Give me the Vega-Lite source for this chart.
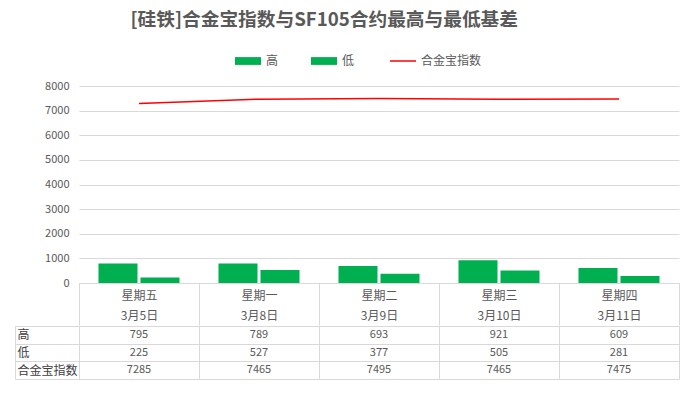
{
  "$schema": "https://vega.github.io/schema/vega-lite/v6.json",
  "padding": {"left": 14, "top": 11, "right": 10, "bottom": 5},
  "background": "white",
  "title": {"text": "[硅铁]合金宝指数与SF105合约最高与最低基差", "fontSize": 18.7, "font": "Noto Sans CJK SC", "fontWeight": "bold", "color": "#595959", "anchor": "start", "dx": 116, "offset": 25},
  "datasets": {
    "d": [
      {"day": "星期五|3月5日", "series": "高", "value": 795},
      {"day": "星期一|3月8日", "series": "高", "value": 789},
      {"day": "星期二|3月9日", "series": "高", "value": 693},
      {"day": "星期三|3月10日", "series": "高", "value": 921},
      {"day": "星期四|3月11日", "series": "高", "value": 609},
      {"day": "星期五|3月5日", "series": "低", "value": 225},
      {"day": "星期一|3月8日", "series": "低", "value": 527},
      {"day": "星期二|3月9日", "series": "低", "value": 377},
      {"day": "星期三|3月10日", "series": "低", "value": 505},
      {"day": "星期四|3月11日", "series": "低", "value": 281},
      {"day": "星期五|3月5日", "series": "合金宝指数", "value": 7285},
      {"day": "星期一|3月8日", "series": "合金宝指数", "value": 7465},
      {"day": "星期二|3月9日", "series": "合金宝指数", "value": 7495},
      {"day": "星期三|3月10日", "series": "合金宝指数", "value": 7465},
      {"day": "星期四|3月11日", "series": "合金宝指数", "value": 7475}
    ]
  },
  "data": {"name": "d"},
  "spacing": -6,
  "vconcat": [
    {
      "width": 600,
      "height": 197,
      "encoding": {
        "x": {"field": "day", "type": "nominal", "sort": ["星期五|3月5日", "星期一|3月8日", "星期二|3月9日", "星期三|3月10日", "星期四|3月11日"],
          "scale": {"paddingInner": 0, "paddingOuter": 0},
          "axis": {"title": null, "labelExpr": "split(datum.label, '|')", "labelAngle": 0, "tickBand": "extent", "tickSize": 42, "tickColor": "#d9d9d9", "domainColor": "#d9d9d9", "labelPadding": -35, "labelLineHeight": 20, "labelFontSize": 12, "labelColor": "#595959", "labelBaseline": "top"}},
        "y": {"field": "value", "type": "quantitative", "stack": null,
          "scale": {"domain": [0, 8000], "nice": false},
          "axis": {"title": null, "domain": false, "ticks": false, "format": "d", "values": [0, 1000, 2000, 3000, 4000, 5000, 6000, 7000, 8000], "grid": true, "gridColor": "#d9d9d9", "labelColor": "#595959", "labelFontSize": 11, "labelPadding": 10}},
        "color": {"field": "series", "type": "nominal",
          "scale": {"domain": ["高", "低", "合金宝指数"], "range": ["#00b050", "#00b050", "#ff0000"]},
          "legend": {"title": null, "orient": "none", "legendX": 163, "legendY": -31, "direction": "horizontal", "labelFontSize": 12, "labelColor": "#595959", "columnPadding": 32, "symbolSize": 676, "labelOffset": 12,
            "encode": {"symbols": {"update": {
              "shape": {"signal": "datum.value === '合金宝指数' ? 'stroke' : 'M-1,-0.3H1V0.3H-1Z'"},
              "fill": {"signal": "datum.value === '合金宝指数' ? 'transparent' : '#00b050'"},
              "stroke": {"signal": "datum.value === '合金宝指数' ? '#ff0000' : '#00b050'"},
              "strokeWidth": {"signal": "datum.value === '合金宝指数' ? 1.5 : 0"},
              "opacity": {"value": 1}
            }}}}}
      },
      "layer": [
        {
          "transform": [{"filter": "datum.series !== '合金宝指数'"}],
          "mark": {"type": "bar"},
          "encoding": {
            "xOffset": {"field": "series", "type": "nominal", "sort": ["高", "低"], "scale": {"paddingInner": 0.071, "paddingOuter": 0.464}}
          }
        },
        {
          "transform": [{"filter": "datum.series === '合金宝指数'"}],
          "mark": {"type": "line", "strokeWidth": 1.5}
        }
      ]
    },
    {
      "width": 600,
      "height": 53,
      "mark": {"type": "text", "fontSize": 11, "color": "#595959"},
      "encoding": {
        "x": {"field": "day", "type": "nominal", "sort": ["星期五|3月5日", "星期一|3月8日", "星期二|3月9日", "星期三|3月10日", "星期四|3月11日"],
          "scale": {"paddingInner": 0, "paddingOuter": 0},
          "axis": {"title": null, "labels": false, "ticks": false, "domain": false, "grid": true, "tickBand": "extent", "gridColor": "#d9d9d9"}},
        "y": {"field": "series", "type": "nominal", "sort": ["高", "低", "合金宝指数"],
          "scale": {"paddingInner": 0, "paddingOuter": 0},
          "axis": {"title": null, "domain": true, "domainColor": "#d9d9d9", "offset": 64, "tickSize": -64, "tickBand": "extent", "tickColor": "#d9d9d9", "labelAlign": "left", "labelPadding": 62, "labelFontSize": 12, "labelColor": "#404040", "grid": true, "gridColor": "#d9d9d9"}},
        "text": {"field": "value", "type": "quantitative", "format": "d"}
      }
    }
  ],
  "config": {
    "view": {"stroke": null},
    "font": "Noto Sans CJK SC"
  }
}
